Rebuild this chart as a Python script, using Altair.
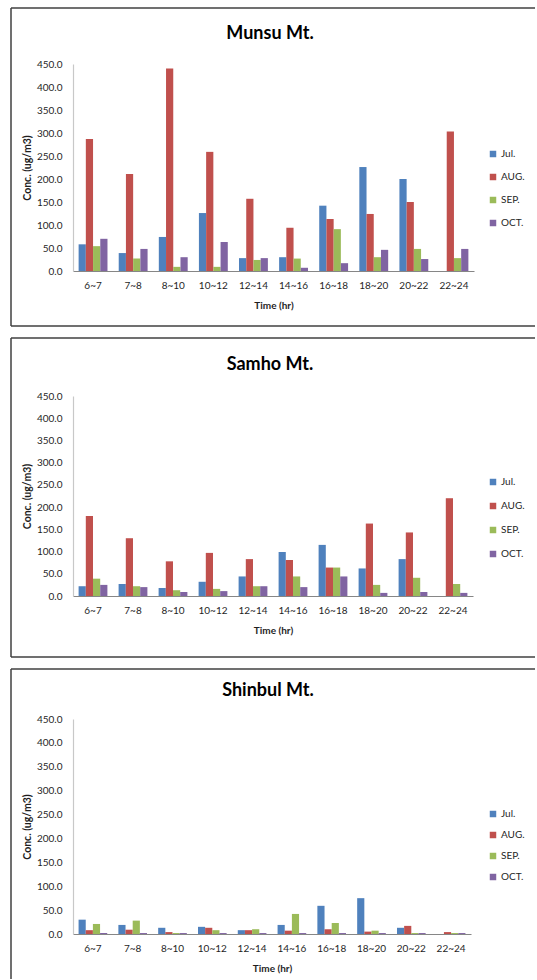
import altair as alt
import pandas as pd

# Time windows on the x axis and the four sampling months
times = ["6~7", "7~8", "8~10", "10~12", "12~14", "14~16", "16~18", "18~20", "20~22", "22~24"]
months = ["Jul.", "AUG.", "SEP.", "OCT."]
month_colors = ["#4F81BD", "#C0504D", "#9BBB59", "#8064A2"]

# Concentrations (ug/m3) per time window, one list per month
munsu_jul = [58, 39, 74, 126, 28, 30, 142, 226, 200, 0]
munsu_aug = [287, 211, 440, 259, 157, 94, 113, 124, 150, 303]
munsu_sep = [54, 27, 9, 9, 24, 27, 91, 30, 48, 28]
munsu_oct = [70, 48, 30, 63, 28, 7, 17, 46, 26, 48]

samho_jul = [22, 27, 18, 32, 44, 99, 115, 62, 83, 0]
samho_aug = [180, 130, 78, 97, 83, 81, 64, 163, 143, 220]
samho_sep = [39, 22, 13, 16, 22, 44, 64, 25, 41, 27]
samho_oct = [25, 20, 9, 11, 22, 20, 44, 7, 9, 7]

shinbul_jul = [30, 19, 13, 15, 8, 19, 59, 75, 13, 0]
shinbul_aug = [8, 9, 4, 13, 8, 7, 10, 5, 17, 4]
shinbul_sep = [21, 28, 2, 8, 10, 42, 23, 7, 2, 2]
shinbul_oct = [2, 2, 2, 2, 2, 2, 2, 2, 2, 2]

FONT = "Lato"
TEXT = "#1f1f1f"
FRAME = "#404040"
one_row = alt.Data(values=[{}])


def panel(name, series, width, height, top, bottom, title_x, title_y,
          legend_y, row_gap, close_bottom=True):
    df = pd.DataFrame(
        [{"time": t, "month": m, "conc": v}
         for m, vals in zip(months, series)
         for t, v in zip(times, vals)]
    )

    bars = alt.Chart(df).mark_bar().encode(
        x=alt.X(
            "time:N", sort=times,
            scale=alt.Scale(paddingInner=0.28, paddingOuter=0.14),
            axis=alt.Axis(
                title="Time (hr)", labelAngle=0, ticks=False, tickSize=0,
                domainColor="#868686", domainWidth=1.2,
                labelPadding=9, labelFontSize=10, labelFont=FONT, labelColor=TEXT,
                titlePadding=10, titleFontSize=10, titleFont=FONT,
                titleFontWeight="bold", titleColor=TEXT,
            ),
        ),
        xOffset=alt.XOffset("month:N", sort=months,
                            scale=alt.Scale(paddingInner=0, paddingOuter=0)),
        y=alt.Y(
            "conc:Q",
            scale=alt.Scale(domain=[0, 450], nice=False),
            axis=alt.Axis(
                title="Conc. (ug/m3)", values=list(range(0, 451, 50)),
                format=".1f", grid=False, ticks=False, tickSize=0,
                domainColor="#C8C8C8", domainWidth=1.2,
                labelPadding=11, labelFontSize=10, labelFont=FONT, labelColor=TEXT,
                titlePadding=4, titleFontSize=10.5, titleFont=FONT,
                titleFontWeight="bold", titleColor=TEXT,
            ),
        ),
        color=alt.Color(
            "month:N", sort=months,
            scale=alt.Scale(domain=months, range=month_colors),
            legend=alt.Legend(
                title=None, orient="none", legendX=415, legendY=legend_y,
                direction="vertical", symbolType="square", symbolSize=42,
                symbolStrokeWidth=0, labelFontSize=10, labelFont=FONT,
                labelColor=TEXT, labelOffset=3, rowPadding=row_gap,
            ),
        ),
    ).properties(width=width, height=height)

    # panel frame (left, top and optionally bottom edges)
    left = alt.Chart(one_row).mark_rule(color=FRAME, strokeWidth=1.5).encode(
        x=alt.value(-62), y=alt.value(top), y2=alt.value(bottom))
    top_edge = alt.Chart(one_row).mark_rule(color=FRAME, strokeWidth=1.5).encode(
        x=alt.value(-62), x2=alt.value(462), y=alt.value(top))
    layers = [bars, left, top_edge]
    if close_bottom:
        bottom_edge = alt.Chart(one_row).mark_rule(color=FRAME, strokeWidth=1.5).encode(
            x=alt.value(-62), x2=alt.value(462), y=alt.value(bottom))
        layers.append(bottom_edge)

    heading = alt.Chart(one_row).mark_text(
        text=name, font=FONT, fontSize=18, fontWeight="bold", color="#000000",
        align="center", baseline="middle",
    ).encode(x=alt.value(title_x), y=alt.value(title_y))
    layers.append(heading)

    return alt.layer(*layers)


munsu = panel("Munsu Mt.", [munsu_jul, munsu_aug, munsu_sep, munsu_oct],
              401, 207, -56, 262, 197, -30, 85, 13)
samho = panel("Samho Mt.", [samho_jul, samho_aug, samho_sep, samho_oct],
              400, 200, -58, 261, 197, -31, 81, 14)
shinbul = panel("Shinbul Mt.", [shinbul_jul, shinbul_aug, shinbul_sep, shinbul_oct],
                398, 215, -50, 260, 195, -28, 90, 11, close_bottom=False)

chart = alt.vconcat(munsu, samho, shinbul, spacing=10).resolve_scale(
    x="independent", y="independent", xOffset="independent", color="independent"
).properties(
    padding={"left": 10, "top": 7, "right": 0, "bottom": 0},
    background="white",
).configure_view(strokeWidth=0)

chart.save("out.html", embed_options={"renderer": "svg", "actions": False})
